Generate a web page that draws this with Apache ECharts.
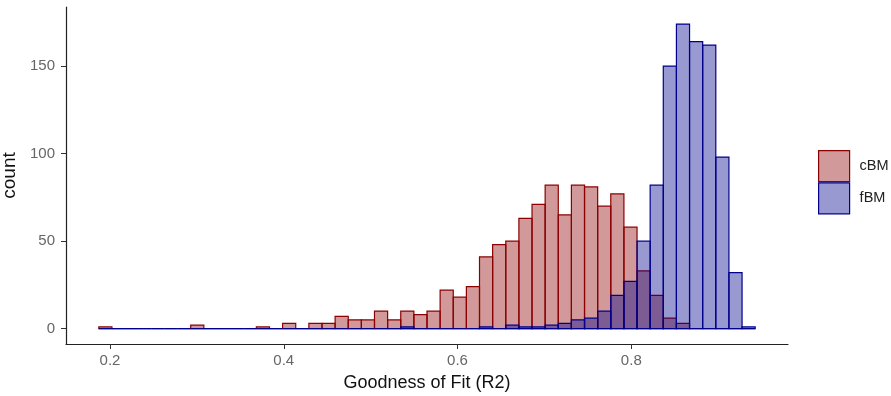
<!DOCTYPE html>
<html>
<head>
<meta charset="utf-8">
<script src="https://cdn.jsdelivr.net/npm/echarts@6/dist/echarts.min.js"></script>
<style>
  html, body { margin: 0; padding: 0; background: #fff; }
  #histChart { width: 891px; height: 396px; }
</style>
</head>
<body>
<div id="histChart"></div>
<script>
// histogram bins (50 bins of equal width)
const binStart = 0.1871;
const binWidth = 0.01511;

const cBM = [1, 0, 0, 0, 0, 0, 0, 2, 0, 0,
             0, 0, 1, 0, 3, 0, 3, 3, 7, 5,
             5, 10, 5, 10, 8, 10, 22, 18, 24, 41,
             48, 50, 63, 71, 82, 65, 82, 81, 70, 77,
             58, 33, 19, 6, 3, 0, 0, 0, 0, 0];
const fBM = [0, 0, 0, 0, 0, 0, 0, 0, 0, 0,
             0, 0, 0, 0, 0, 0, 0, 0, 0, 0,
             0, 0, 0, 1, 0, 0, 0, 0, 0, 1,
             0, 2, 1, 1, 2, 3, 5, 6, 10, 19,
             27, 50, 82, 150, 174, 164, 162, 98, 32, 1];

const xTicks = [0.2, 0.4, 0.6, 0.8];
const yTicks = [0, 50, 100, 150];

function toBins(counts) {
    return counts.map((c, i) => [binStart + i * binWidth, binStart + (i + 1) * binWidth, c]);
}

function histItem(fill, stroke) {
    return function (params, api) {
        let p0 = api.coord([api.value(0), 0]);
        let p1 = api.coord([api.value(1), api.value(2)]);
        return {
            type: 'rect',
            shape: { x: p0[0], y: p1[1], width: p1[0] - p0[0], height: p0[1] - p1[1] },
            style: { fill: fill, stroke: stroke, lineWidth: 1.2 }
        };
    };
}

const redFill = 'rgba(139,0,0,0.4)';
const blueFill = 'rgba(0,0,139,0.4)';
const font = "'Liberation Sans', Arial, sans-serif";

let myChart = echarts.init(document.getElementById('histChart'));
let option;

option = {
    animation: false,
    textStyle: { fontFamily: font },
    grid: { left: 66, right: 103, top: 7, bottom: 52, containLabel: false, outerBoundsMode: 'none' },
    legend: {
        orient: 'vertical',
        left: 818,
        top: 150,
        padding: 0,
        itemWidth: 31,
        itemHeight: 31,
        itemGap: 0,
        icon: 'rect',
        textStyle: { fontSize: 14.5, color: '#222', padding: [0, 0, 0, 5] },
        data: [
            { name: 'cBM', itemStyle: { color: redFill, borderColor: '#8b0000', borderWidth: 1.2 } },
            { name: 'fBM', itemStyle: { color: blueFill, borderColor: '#00008b', borderWidth: 1.2 } }
        ]
    },
    xAxis: {
        type: 'value',
        min: binStart - 2.5 * binWidth,
        max: binStart + 52.5 * binWidth,
        name: 'Goodness of Fit (R2)',
        nameLocation: 'middle',
        nameGap: 30,
        nameTextStyle: { fontSize: 18, color: '#111' },
        splitLine: { show: false },
        axisLine: { onZero: false, lineStyle: { color: '#222', width: 1.2 } },
        axisTick: { length: 5, customValues: xTicks, lineStyle: { color: '#333' } },
        axisLabel: { customValues: xTicks, fontSize: 15, color: '#666', margin: 9 }
    },
    yAxis: {
        type: 'value',
        min: -8.75,
        max: 183.75,
        name: 'count',
        nameLocation: 'middle',
        nameGap: 42,
        nameTextStyle: { fontSize: 19, color: '#111' },
        splitLine: { show: false },
        axisLine: { show: true, onZero: false, lineStyle: { color: '#222', width: 1.2 } },
        axisTick: { show: true, length: 5, customValues: yTicks, lineStyle: { color: '#333' } },
        axisLabel: { customValues: yTicks, fontSize: 15, color: '#666', margin: 11 }
    },
    series: [
        {
            name: 'cBM',
            type: 'custom',
            renderItem: histItem(redFill, '#8b0000'),
            itemStyle: { color: redFill },
            encode: { x: [0, 1], y: 2 },
            data: toBins(cBM)
        },
        {
            name: 'fBM',
            type: 'custom',
            renderItem: histItem(blueFill, '#00008b'),
            itemStyle: { color: blueFill },
            encode: { x: [0, 1], y: 2 },
            data: toBins(fBM)
        }
    ]
};

option && myChart.setOption(option);
</script>
</body>
</html>
